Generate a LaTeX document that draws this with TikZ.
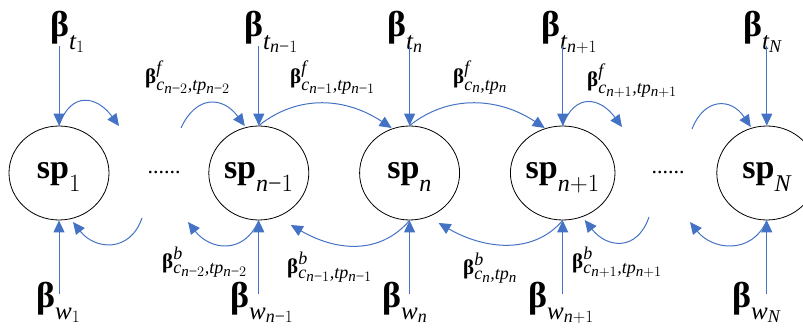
\documentclass[tikz,border=0pt]{standalone}
\usepackage{amsmath}
\usepackage{fontspec}
\setmainfont{Liberation Serif}
\DeclareSymbolFont{letters}{TU}{\rmdefault}{m}{it}
\DeclareSymbolFont{operators}{TU}{\rmdefault}{m}{n}
\DeclareMathSizes{36}{36}{25}{18}
\DeclareMathSizes{34}{34}{24}{17}
\DeclareMathSizes{21}{21}{18}{15}
\mathcode`\,="612C
\Umathcode`\-="2 "0 "2212
\usetikzlibrary{arrows.meta, positioning, shapes.geometric}
\definecolor{lineblue}{RGB}{68,114,196}
\newcommand{\bbeta}{\text{\bfseries β}}
\newcommand{\bbetaT}{\text{\bfseries β\vrule width 0pt height 0pt depth 11pt}}
\newcommand{\bsp}{\text{\bfseries sp\vrule width 0pt height 0pt depth 11pt}}

\begin{document}
\begin{tikzpicture}[x=1pt, y=-1pt,
  state/.style={ellipse, draw, line width=0.8pt, minimum width=100pt, minimum height=94pt, inner sep=0pt, text height=22pt, text depth=10pt, font=\fontsize{34}{36}\selectfont},
  lab/.style={anchor=base west, inner sep=0pt, font=\fontsize{36}{38}\selectfont},
  small/.style={anchor=base west, inner sep=0pt, font=\fontsize{21}{24}\selectfont},
  edge/.style={-{Triangle[length=12pt, width=11pt]}, line width=1pt, lineblue}
]
\useasboundingbox (0,0) rectangle (803,331);

\node[state] (sp1) at (59,173) {$\bsp_1$};
\node[state, right=99pt of sp1] (spm) {$\bsp_{n-1}$};
\node[state, right=50pt of spm] (spn) {$\bsp_n$};
\node[state, right=50pt of spn] (spp) {$\bsp_{n+1}$};
\node[state, right=101pt of spp] (spN) {$\bsp_N$};

\node[font=\fontsize{22}{24}\selectfont] (dl) at (164,173) {......};
\node[font=\fontsize{22}{24}\selectfont] (dr) at (668,173) {......};

% top and bottom inputs
\node[lab] (t1) at (50,37) {$\bbetaT_{t_1}$};
\node[lab] (tm) at (244,37) {$\bbetaT_{t_{n-1}}$};
\node[lab] (tn) at (387,37) {$\bbetaT_{t_n}$};
\node[lab] (tp) at (541,37) {$\bbetaT_{t_{n+1}}$};
\node[lab] (tN) at (743,37) {$\bbetaT_{t_N}$};
\node[lab] (w1) at (36,307) {$\bbetaT_{w_1}$};
\node[lab] (wm) at (230,307) {$\bbetaT_{w_{n-1}}$};
\node[lab] (wn) at (382,307) {$\bbetaT_{w_n}$};
\node[lab] (wp) at (528,307) {$\bbetaT_{w_{n+1}}$};
\node[lab] (wN) at (732,307) {$\bbetaT_{w_N}$};

\foreach \s in {sp1,spm,spn,spp,spN} {
  \coordinate (\s top) at (\s.north |- 0,46);
  \coordinate (\s bot) at (\s.south |- 0,294);
  \draw[edge] (\s top) -- (\s.north);
  \draw[edge] (\s bot) -- (\s.south);
}

% forward
\coordinate (o1) at (119,126);
\coordinate (i2) at (181,128);
\coordinate (o5) at (622,127);
\coordinate (i6) at (692,129);
\draw[edge] (sp1.north) .. controls +(12,-35) and +(-22,-30) .. (o1);
\draw[edge] (i2) .. controls +(15,-33) and +(-22,-30) .. ([shift={(-14,-47)}]spm.center);
\draw[edge] (spm.north) .. controls +(40,-32) and +(-45,-30) .. ([shift={(-18,-45)}]spn.center);
\draw[edge] (spn.north) .. controls +(40,-32) and +(-45,-30) .. ([shift={(-18,-45)}]spp.center);
\draw[edge] (spp.north) .. controls +(12,-33) and +(-22,-30) .. (o5);
\draw[edge] (i6) .. controls +(12,-31) and +(-20,-30) .. ([shift={(-16,-46)}]spN.center);

% backward
\coordinate (i7) at (142,218);
\coordinate (o8) at (188,222);
\coordinate (i11) at (649,217);
\coordinate (o12) at (690,222);
\draw[edge] (i7) .. controls +(-12,35) and +(22,28) .. ([shift={(14,49)}]sp1.center);
\draw[edge] (spm.south) .. controls +(-15,35) and +(22,28) .. (o8);
\draw[edge] (spn.south) .. controls +(-30,35) and +(45,26) .. ([shift={(32,52)}]spm.center);
\draw[edge] (spp.south) .. controls +(-30,35) and +(45,26) .. ([shift={(29,50)}]spn.center);
\draw[edge] (i11) .. controls +(-12,35) and +(22,28) .. ([shift={(22,47)}]spp.center);
\draw[edge] (spN.south) .. controls +(-15,35) and +(22,28) .. (o12);

\node[small] (fm2) at (145,84) {$\bbeta^f_{c_{n-2},tp_{n-2}}$};
\node[small] (fm1) at (290,84) {$\bbeta^f_{c_{n-1},tp_{n-1}}$};
\node[small] (fn) at (453,84) {$\bbeta^f_{c_n,tp_n}$};
\node[small] (fp1) at (587,87) {$\bbeta^f_{c_{n+1},tp_{n+1}}$};
\node[small] (bm2) at (162,268) {$\bbeta^b_{c_{n-2},tp_{n-2}}$};
\node[small] (bm1) at (287,273) {$\bbeta^b_{c_{n-1},tp_{n-1}}$};
\node[small] (bn) at (463,274) {$\bbeta^b_{c_n,tp_n}$};
\node[small] (bp1) at (572,268) {$\bbeta^b_{c_{n+1},tp_{n+1}}$};
\end{tikzpicture}
\end{document}
